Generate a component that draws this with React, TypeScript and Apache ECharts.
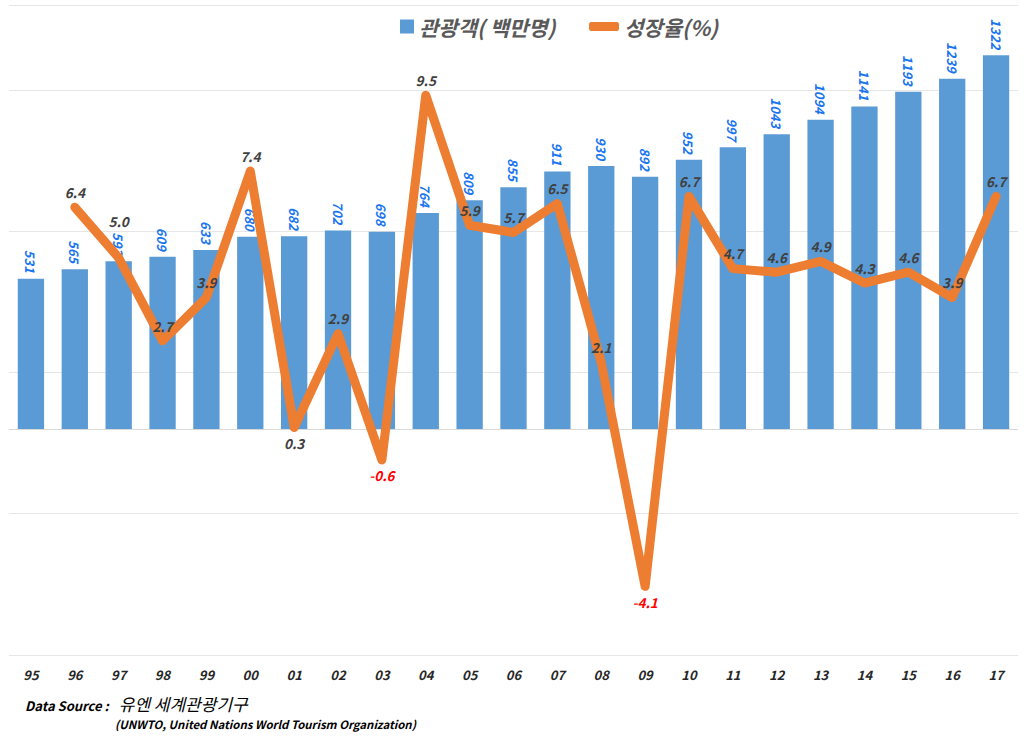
import React, { useEffect, useRef } from "react";
import * as echarts from "echarts";

const categories = ["95","96","97","98","99","00","01","02","03","04","05","06","07","08","09","10","11","12","13","14","15","16","17"];
const tourists = [531,565,593,609,633,680,682,702,698,764,809,855,911,930,892,952,997,1043,1094,1141,1193,1239,1322];
const growth = [null,6.4,5.0,2.7,3.9,7.4,0.3,2.9,-0.6,9.5,5.9,5.7,6.5,2.1,-4.1,6.7,4.7,4.6,4.9,4.3,4.6,3.9,6.7];
const belowLabels = ["01","03","09"];
const raisedLabels = ["97"];

const FONT = "'Noto Sans CJK KR', 'Noto Sans', sans-serif";

export default function App() {
  const ref = useRef<HTMLDivElement>(null);
  useEffect(() => {
    if (!ref.current) return;
    const chart = echarts.init(ref.current, null, { renderer: "svg" });
    const lineData = growth.map((v, i) => {
      if (v === null) return { value: null as any };
      const below = belowLabels.includes(categories[i]);
      const raised = raisedLabels.includes(categories[i]);
      return {
        value: v,
        label: {
          position: below ? "bottom" : "top",
          color: v < 0 ? "#ff0000" : "#404040",
          offset: raised ? [0, -22] : [0, 0],
        },
      };
    });
    const legendText = { fontSize: 21, fontWeight: "bold", fontStyle: "italic", color: "#595959", fontFamily: FONT };
    chart.setOption({
      animation: false,
      textStyle: { fontFamily: FONT },
      legend: [
        {
          data: ["관광객( 백만명)"],
          left: 395,
          top: 11,
          icon: "rect",
          itemWidth: 14,
          itemHeight: 14,
          itemGap: 6,
          textStyle: legendText,
        },
        {
          data: ["성장율(%)"],
          left: 584,
          top: 11,
          icon: "roundRect",
          itemWidth: 30,
          itemHeight: 9,
          textStyle: legendText,
        },
      ],
      grid: { left: 9, right: 6, top: 5, bottom: 94, containLabel: false },
      xAxis: {
        type: "category",
        data: categories,
        axisLine: { show: false },
        axisTick: { show: false },
        axisLabel: {
          margin: 13,
          fontSize: 13,
          fontWeight: "bold",
          fontStyle: "italic",
          color: "#262626",
          fontFamily: FONT,
        },
      },
      yAxis: [
        {
          type: "value",
          min: -800,
          max: 1500,
          interval: 500,
          axisLabel: { show: false },
          axisLine: { show: false },
          axisTick: { show: false },
          splitLine: { show: true, lineStyle: { color: "#e6e6e6", width: 1 } },
        },
        {
          type: "value",
          min: -6,
          max: 12,
          axisLabel: { show: false },
          axisLine: { show: false },
          axisTick: { show: false },
          splitLine: { show: false },
        },
      ],
      series: [
        {
          name: "관광객( 백만명)",
          type: "bar",
          yAxisIndex: 0,
          data: tourists,
          barWidth: "60%",
          itemStyle: { color: "#5B9BD5" },
          label: {
            show: true,
            position: "top",
            rotate: -90,
            align: "right",
            verticalAlign: "middle",
            distance: 6,
            fontSize: 13,
            fontWeight: "bold",
            fontStyle: "italic",
            color: "#1a75f0",
            fontFamily: FONT,
          },
          markLine: {
            silent: true,
            symbol: "none",
            label: { show: false },
            lineStyle: { color: "#d9d9d9", width: 1, type: "solid" },
            data: [{ yAxis: 0 }],
          },
        },
        {
          name: "성장율(%)",
          type: "line",
          yAxisIndex: 1,
          data: lineData,
          symbol: "circle",
          symbolSize: 1,
          showSymbol: true,
          itemStyle: { color: "#ED7D31" },
          lineStyle: { color: "#ED7D31", width: 9, cap: "round", join: "round" },
          z: 5,
          label: {
            show: true,
            distance: 8,
            fontSize: 13.5,
            fontWeight: "bold",
            fontStyle: "italic",
            fontFamily: FONT,
            formatter: (p: any) => Number(p.value).toFixed(1),
          },
        },
      ],
      graphic: [
        {
          type: "text",
          left: 25,
          top: 695,
          style: {
            text: "{a|Data Source :}{b|유엔 세계관광기구}",
            rich: {
              a: { font: `italic bold 13px ${FONT}`, fill: "#000000", verticalAlign: "bottom", lineHeight: 22 },
              b: { font: `italic 17px ${FONT}`, fill: "#000000", verticalAlign: "bottom", lineHeight: 22, padding: [0, 0, 0, 10] },
            },
          },
        },
        {
          type: "text",
          left: 115,
          top: 718,
          style: {
            text: "(UNWTO, United Nations World Tourism Organization)",
            font: `italic bold 11.4px ${FONT}`,
            fill: "#000000",
          },
        },
      ],
    });
    return () => chart.dispose();
  }, []);
  return (
    <div
      ref={ref}
      style={{ position: "fixed", left: 0, top: 0, width: 1024, height: 749, background: "#ffffff" }}
    />
  );
}
